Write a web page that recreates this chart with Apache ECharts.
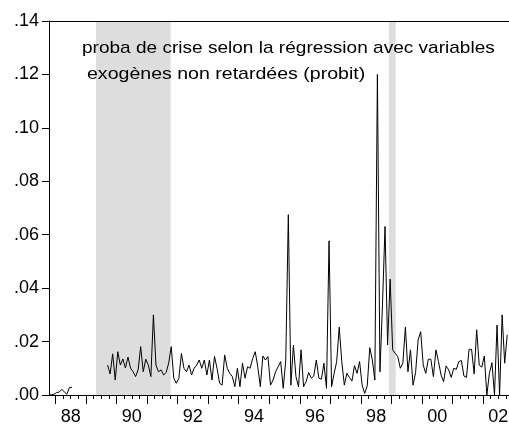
<!DOCTYPE html>
<html>
<head>
<meta charset="utf-8">
<title>proba de crise</title>
<script src="https://cdn.jsdelivr.net/npm/echarts@6/dist/echarts.min.js"></script>
<style>
  html, body { margin: 0; padding: 0; background: #fff; }
  #chart { width: 509px; height: 427px; }
</style>
</head>
<body>
<div id="chart"></div>
<script>
// monthly observations, first one is Oct 1987 (null = no data)
var startYear = 1987;
var startMonth = 10;
var proba = [
  0.0000, 0.0001, 0.0003, 0.0009, 0.0011, 0.0021, 0.0012, 0.0003, 0.0028, 0.0029,
  null, null, null, null, null, null, null, null, null, null, null, null, null,
  // sep 89 ->
  0.0112, 0.0079, 0.0154, 0.0056, 0.0162, 0.0112, 0.0135, 0.0101, 0.0142, 0.0101,
  0.0087, 0.0069, 0.0094, 0.0181, 0.0087, 0.0134, 0.0112, 0.0069, 0.0300, 0.0112,
  0.0087, 0.0094, 0.0075, 0.0084,
  // sep 91 ->
  0.0119, 0.0181, 0.0063, 0.0044, 0.0063, 0.0156, 0.0100, 0.0087, 0.0112, 0.0075,
  0.0100, 0.0112, 0.0131, 0.0100, 0.0131, 0.0075, 0.0131, 0.0056, 0.0144, 0.0100,
  0.0044, 0.0037, 0.0150, 0.0100, 0.0081, 0.0069, 0.0031,
  // dec 93 ->
  0.0100, 0.0031, 0.0119, 0.0063, 0.0106, 0.0100, 0.0137, 0.0162, 0.0106, 0.0031,
  0.0146, 0.0131, 0.0144, 0.0037, 0.0056, 0.0087, 0.0106, 0.0125, 0.0025, 0.0131,
  0.0675, 0.0037, 0.0187, 0.0069, 0.0031, 0.0169, 0.0031, 0.0050,
  // apr 96 ->
  0.0084, 0.0063, 0.0071, 0.0131, 0.0063, 0.0059, 0.0119, 0.0025, 0.0577, 0.0031,
  0.0081, 0.0125, 0.0254, 0.0125, 0.0037, 0.0081, 0.0066, 0.0052, 0.0110, 0.0081,
  0.0125, 0.0037, 0.0006, 0.0034, 0.0177, 0.0131, 0.0056,
  // jul 98 ->
  0.1200, 0.0087, 0.0340, 0.0631, 0.0187, 0.0434, 0.0169, 0.0156, 0.0144, 0.0100,
  0.0119, 0.0254, 0.0087, 0.0169, 0.0037, 0.0084, 0.0206, 0.0237, 0.0112, 0.0081,
  0.0134, 0.0134, 0.0069, 0.0169, 0.0125, 0.0075, 0.0050, 0.0109,
  // nov 00 ->
  0.0094, 0.0066, 0.0100, 0.0096, 0.0125, 0.0129, 0.0071, 0.0066, 0.0171, 0.0171,
  0.0079, 0.0244, 0.0112, 0.0104, 0.0146, 0.0000, 0.0081, 0.0121, 0.0000, 0.0262,
  0.0000, 0.0300, 0.0119, 0.0225
];

var labelYears = [1988, 1990, 1992, 1994, 1996, 1998, 2000, 2002];
var shadeStart = [1989.33, 1998.92];
var shadeEnd = [1991.77, 1999.14];
var titleLines = [
  'proba de crise selon la régression avec variables',
  'exogènes non retardées (probit)'
];

var xMin = 1987.79, xMax = 2002.85;
var font = 'Liberation Sans, Arial, sans-serif';

var points = proba.map(function (v, i) {
  return [startYear + (startMonth - 1 + i + 0.5) / 12, v];
});

var quarterTicks = [], yearTicks = [];
for (var q = 1988; q < xMax; q += 0.25) quarterTicks.push(q);
for (var y = 1988; y < xMax; y++) yearTicks.push(y);
var labelPos = labelYears.map(function (yr) { return yr + 0.5; });

var chart = echarts.init(document.getElementById('chart'));

chart.setOption({
  animation: false,
  backgroundColor: '#fff',
  grid: { left: 49, right: 0, top: 21, bottom: 32, outerBoundsMode: 'none' },
  xAxis: [
    {
      type: 'value', min: xMin, max: xMax, position: 'bottom', z: 10,
      axisLine: { show: true, lineStyle: { color: '#000', width: 1 } },
      axisTick: { show: true, length: 4, customValues: quarterTicks, lineStyle: { color: '#000' } },
      axisLabel: { show: false },
      splitLine: { show: false }
    },
    {
      type: 'value', min: xMin, max: xMax, position: 'bottom', z: 10,
      axisLine: { show: false },
      axisTick: { show: true, length: 9, customValues: yearTicks, lineStyle: { color: '#000' } },
      axisLabel: {
        show: true, customValues: labelPos, margin: 13,
        color: '#000', fontSize: 18, fontFamily: font,
        formatter: function (v) { return String(Math.floor(v)).slice(2); }
      },
      splitLine: { show: false }
    },
    {
      type: 'value', min: xMin, max: xMax, position: 'top', z: 10,
      axisLine: { show: true, lineStyle: { color: '#000', width: 1 } },
      axisTick: { show: false },
      axisLabel: { show: false },
      splitLine: { show: false }
    }
  ],
  yAxis: {
    type: 'value', min: 0, max: 0.14, interval: 0.02, z: 10,
    axisLine: { show: true, lineStyle: { color: '#000', width: 1 } },
    axisTick: { show: true, length: 7, lineStyle: { color: '#000' } },
    axisLabel: {
      margin: 10, color: '#000', fontSize: 18, fontFamily: font,
      formatter: function (v) { return v.toFixed(2).replace(/^0/, ''); }
    },
    splitLine: { show: false }
  },
  graphic: [
    {
      type: 'text', x: 82, y: 40, scaleX: 1.12, z: 20,
      style: { text: titleLines[0], fill: '#000', font: '17px ' + font }
    },
    {
      type: 'text', x: 87, y: 66, scaleX: 1.15, z: 20,
      style: { text: titleLines[1], fill: '#000', font: '17px ' + font }
    }
  ],
  series: [
    {
      type: 'line',
      xAxisIndex: 0,
      data: points,
      showSymbol: false,
      connectNulls: false,
      lineStyle: { color: '#000', width: 1 },
      markArea: {
        silent: true,
        itemStyle: { color: '#dddddd' },
        data: shadeStart.map(function (s, i) {
          return [{ xAxis: s }, { xAxis: shadeEnd[i] }];
        })
      }
    }
  ]
});
</script>
</body>
</html>
